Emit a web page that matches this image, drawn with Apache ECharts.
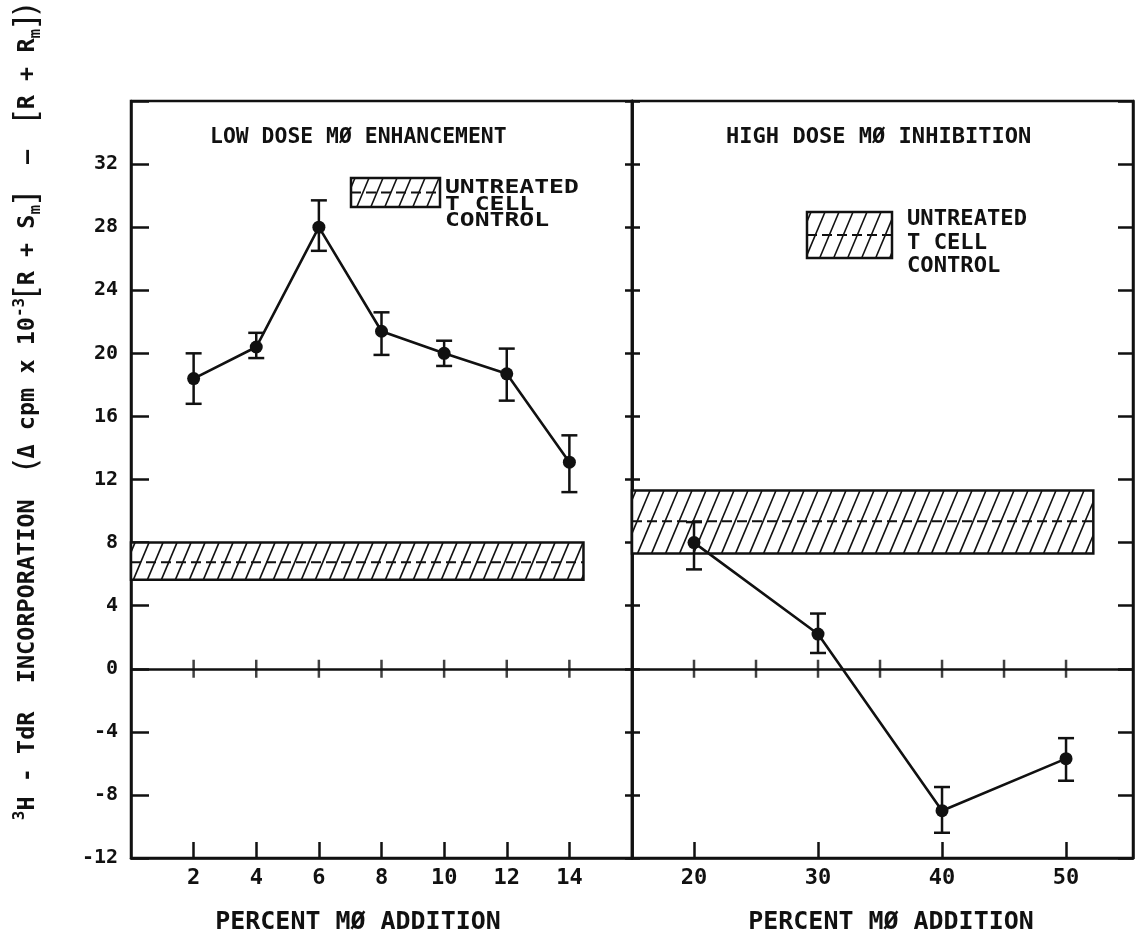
<!DOCTYPE html>
<html>
<head>
<meta charset="utf-8">
<script src="https://cdn.jsdelivr.net/npm/echarts@6/dist/echarts.min.js"></script>
<style>
html,body{margin:0;padding:0;background:#fff;}
#chart{width:1136px;height:937px;}
</style>
</head>
<body>
<div id="chart"></div>
<script>
// ---- data ----
const lowDoseX = [2, 4, 6, 8, 10, 12, 14];
const lowDoseY = [18.4, 20.4, 28.0, 21.4, 20.0, 18.7, 13.1];
const lowDoseErrLo = [16.8, 19.7, 26.5, 19.9, 19.2, 17.0, 11.2];
const lowDoseErrHi = [20.0, 21.3, 29.7, 22.6, 20.8, 20.3, 14.8];

const highDoseX = [20, 30, 40, 50];
const highDoseY = [8.0, 2.2, -9.0, -5.7];
const highDoseErrLo = [6.3, 1.0, -10.4, -7.1];
const highDoseErrHi = [9.3, 3.5, -7.5, -4.4];

// untreated T cell control band: [low, mean, high] and x-span
const controlLowBand = [5.65, 6.75, 8.0];
const controlLowSpan = [0, 14.45];
const controlHighBand = [7.3, 9.35, 11.3];
const controlHighSpan = [15, 52.2];

const leftXTicks = [2, 4, 6, 8, 10, 12, 14];
const rightXTicks = [20, 30, 40, 50];
const rightZeroTicks = [20, 25, 30, 35, 40, 45, 50];

const titleLow = 'LOW DOSE MØ ENHANCEMENT';
const titleHigh = 'HIGH DOSE MØ INHIBITION';
const xTitle = 'PERCENT MØ ADDITION';
const legendLines = ['UNTREATED', 'T CELL', 'CONTROL'];

// ---- helpers ----
const INK = '#111';
const FONT = 'DejaVu Sans Mono';

function hatchChildren(x1, y1, x2, y2, ym) {
  const h = y2 - y1, k = 0.42, sp = 14;
  const ch = [];
  ch.push({type: 'rect', shape: {x: x1, y: y1, width: x2 - x1, height: h},
    style: {fill: '#fff', stroke: null}});
  for (let b = x1 - k * h + 4; b < x2; b += sp) {
    const t0 = Math.max(0, (x1 - b) / (k * h));
    const t1 = Math.min(1, (x2 - b) / (k * h));
    if (t1 <= t0) continue;
    ch.push({type: 'line', shape: {x1: b + k * h * t0, y1: y2 - h * t0, x2: b + k * h * t1, y2: y2 - h * t1},
      style: {stroke: INK, lineWidth: 1.6}});
  }
  ch.push({type: 'line', shape: {x1: x1, y1: ym, x2: x2, y2: ym},
    style: {stroke: INK, lineWidth: 2, lineDash: [10, 5]}});
  ch.push({type: 'rect', shape: {x: x1, y: y1, width: x2 - x1, height: h},
    style: {fill: null, stroke: INK, lineWidth: 2.5}});
  return ch;
}

function bandSeries(gridIdx, yIdx, band, span) {
  return {
    type: 'custom', xAxisIndex: gridIdx, yAxisIndex: yIdx, z: 2, silent: true,
    data: [[span[0], span[1], band[0], band[1], band[2]]],
    encode: {x: [0, 1], y: [2, 3, 4]},
    renderItem: function (params, api) {
      const p1 = api.coord([api.value(0), api.value(4)]);
      const p2 = api.coord([api.value(1), api.value(2)]);
      const pm = api.coord([api.value(0), api.value(3)]);
      return {type: 'group', children: hatchChildren(p1[0], p1[1], p2[0], p2[1], pm[1])};
    }
  };
}

function errSeries(gridIdx, yIdx, xs, lo, hi) {
  return {
    type: 'custom', xAxisIndex: gridIdx, yAxisIndex: yIdx, z: 4, silent: true,
    data: xs.map((x, i) => [x, lo[i], hi[i]]),
    encode: {x: 0, y: [1, 2]},
    renderItem: function (params, api) {
      const a = api.coord([api.value(0), api.value(1)]);
      const b = api.coord([api.value(0), api.value(2)]);
      const w = 8;
      const st = {stroke: INK, lineWidth: 2.5};
      return {type: 'group', children: [
        {type: 'line', shape: {x1: a[0], y1: a[1], x2: b[0], y2: b[1]}, style: st},
        {type: 'line', shape: {x1: a[0] - w, y1: a[1], x2: a[0] + w, y2: a[1]}, style: st},
        {type: 'line', shape: {x1: b[0] - w, y1: b[1], x2: b[0] + w, y2: b[1]}, style: st}
      ]};
    }
  };
}

function lineSeries(gridIdx, yIdx, xs, ys) {
  return {
    type: 'line', xAxisIndex: gridIdx, yAxisIndex: yIdx, z: 5, silent: true,
    data: xs.map((x, i) => [x, ys[i]]),
    symbol: 'circle', symbolSize: 13,
    itemStyle: {color: INK},
    lineStyle: {color: INK, width: 2.6},
    markLine: {silent: true, symbol: 'none', label: {show: false},
      lineStyle: {color: INK, width: 2.5, type: 'solid'},
      data: [{yAxis: 0}]}
  };
}

function zeroTickSeries(gridIdx, yIdx, xs) {
  return {
    type: 'scatter', xAxisIndex: gridIdx, yAxisIndex: yIdx, z: 3, silent: true,
    data: xs.map(x => [x, 0]),
    symbol: 'rect', symbolSize: [2.5, 18],
    itemStyle: {color: INK}
  };
}

const axisLineStyle = {color: INK, width: 2.5};

function xAxisCfg(gridIdx, min, max, interval, ticks) {
  return {
    type: 'value', gridIndex: gridIdx, min: min, max: max, interval: interval,
    position: 'bottom',
    axisLine: {show: true, onZero: false, lineStyle: axisLineStyle},
    axisTick: {show: true, inside: true, length: 16, customValues: ticks, lineStyle: {color: INK, width: 2.5}},
    axisLabel: {customValues: ticks, margin: 9, color: INK, fontFamily: FONT, fontWeight: 'bold', fontSize: 22},
    splitLine: {show: false}
  };
}

function yAxisCfg(gridIdx, pos, inside, len, showLabel) {
  return {
    type: 'value', gridIndex: gridIdx, min: -12, max: 36, interval: 4, position: pos,
    axisLine: {show: true, onZero: false, lineStyle: axisLineStyle},
    axisTick: {show: true, inside: inside, length: len, lineStyle: {color: INK, width: 2.5}},
    axisLabel: {show: showLabel, margin: 13, color: INK, fontFamily: FONT, fontWeight: 'bold', fontSize: 20,
      formatter: v => (v === 36 ? '' : String(v))},
    splitLine: {show: false}
  };
}

const chart = echarts.init(document.getElementById('chart'), null, {renderer: 'canvas'});

const leftLegendBox = hatchChildren(351, 178, 440, 207, 192.5);
const rightLegendBox = hatchChildren(807, 212, 892, 258, 235);

const txt = (size, w) => (w || 'bold') + ' ' + size + 'px "DejaVu Sans Mono"';

const option = {
  backgroundColor: '#fff',
  animation: false,
  grid: [
    {left: 131, top: 101, width: 501, height: 757, show: true, borderColor: INK, borderWidth: 2.5, containLabel: false},
    {left: 632, top: 101, width: 501, height: 757, show: true, borderColor: INK, borderWidth: 2.5, containLabel: false}
  ],
  xAxis: [
    xAxisCfg(0, 0, 16, 2, leftXTicks),
    xAxisCfg(1, 15, 55.4, 5, rightXTicks)
  ],
  yAxis: [
    yAxisCfg(0, 'left', true, 18, true),
    yAxisCfg(0, 'right', false, 8, false),
    yAxisCfg(1, 'left', false, 7, false),
    yAxisCfg(1, 'right', true, 15, false)
  ],
  series: [
    bandSeries(0, 0, controlLowBand, controlLowSpan),
    bandSeries(1, 2, controlHighBand, controlHighSpan),
    zeroTickSeries(0, 0, leftXTicks),
    zeroTickSeries(1, 2, rightZeroTicks),
    errSeries(0, 0, lowDoseX, lowDoseErrLo, lowDoseErrHi),
    errSeries(1, 2, highDoseX, highDoseErrLo, highDoseErrHi),
    lineSeries(0, 0, lowDoseX, lowDoseY),
    lineSeries(1, 2, highDoseX, highDoseY)
  ],
  graphic: [
    {type: 'text', x: 210, y: 138, scaleX: 1.02, style: {text: titleLow, fill: INK, font: txt(21), verticalAlign: 'middle'}},
    {type: 'text', x: 726, y: 138, scaleX: 1.05, style: {text: titleHigh, fill: INK, font: txt(21), verticalAlign: 'middle'}},
    {type: 'text', x: 358, y: 923, scaleX: 1.04, style: {text: xTitle, fill: INK, font: txt(24), align: 'center', verticalAlign: 'middle'}},
    {type: 'text', x: 891, y: 923, scaleX: 1.04, style: {text: xTitle, fill: INK, font: txt(24), align: 'center', verticalAlign: 'middle'}},
    {type: 'group', children: leftLegendBox},
    {type: 'group', children: rightLegendBox},
    {type: 'text', x: 445, y: 180, scaleX: 1.3, style: {text: legendLines.join('\n'), fill: INK,
      font: txt(19), lineHeight: 16.5}},
    {type: 'text', x: 907, y: 208, scaleX: 1.08, style: {text: legendLines.join('\n'), fill: INK,
      font: txt(20.5), lineHeight: 23.5}},
    {type: 'text', x: 28, y: 412, rotation: Math.PI / 2, z: 10,
      style: {
        text: '{sup|3}{a|H - TdR  INCORPORATION  }{big|(}{a|Δ cpm x 10}{sup|-3}{big|[}{a|R + S}{sub|m}{big|]}{a|  —  }{big|[}{a|R + R}{sub|m}{big|])}',
        align: 'center', verticalAlign: 'middle', fill: INK,
        rich: {
          a: {fontFamily: FONT, fontWeight: 'bold', fontSize: 23.5, lineHeight: 32, fill: INK, verticalAlign: 'middle'},
          sup: {fontFamily: FONT, fontWeight: 'bold', fontSize: 16, lineHeight: 16, fill: INK, verticalAlign: 'top'},
          sub: {fontFamily: FONT, fontWeight: 'bold', fontSize: 16, lineHeight: 14, fill: INK, verticalAlign: 'bottom'},
          big: {fontFamily: 'DejaVu Sans', fontSize: 32, lineHeight: 32, fill: INK, verticalAlign: 'middle'}
        }
      }}
  ]
};
chart.setOption(option);
</script>
</body>
</html>
